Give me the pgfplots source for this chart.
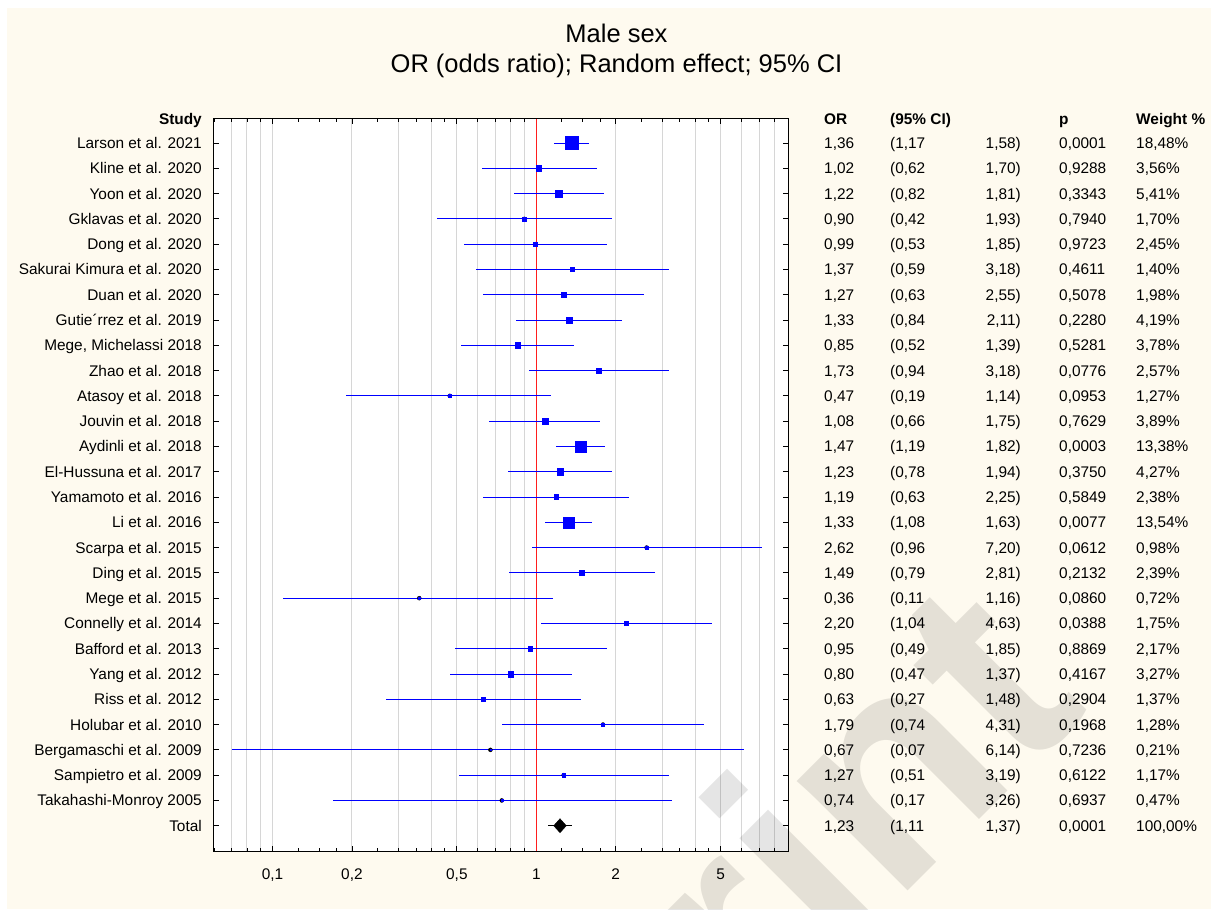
\documentclass[border=0pt]{standalone}
\usepackage{fontspec}
\setmainfont{Liberation Sans}
\usepackage{pgfplots}
\pgfplotsset{compat=1.18}
\usepackage{pgfplotstable}

\definecolor{cream}{RGB}{254,250,239}
\definecolor{gridgray}{RGB}{214,214,214}
\definecolor{ciblue}{RGB}{0,0,255}
\definecolor{nullred}{RGB}{255,30,30}

\newcommand\tabfont{\fontsize{15.4}{18}\selectfont}
\newcommand\titlefont{\fontsize{25.5}{30}\selectfont}
\pgfkeys{/pgf/number format/assume math mode=true}

% row  OR   lower upper  p      weight(%)
\pgfplotstableread{
row or   lo   hi   p      w
1  1.36 1.17 1.58 0.0001 18.48
2  1.02 0.62 1.70 0.9288 3.56
3  1.22 0.82 1.81 0.3343 5.41
4  0.90 0.42 1.93 0.7940 1.70
5  0.99 0.53 1.85 0.9723 2.45
6  1.37 0.59 3.18 0.4611 1.40
7  1.27 0.63 2.55 0.5078 1.98
8  1.33 0.84 2.11 0.2280 4.19
9  0.85 0.52 1.39 0.5281 3.78
10 1.73 0.94 3.18 0.0776 2.57
11 0.47 0.19 1.14 0.0953 1.27
12 1.08 0.66 1.75 0.7629 3.89
13 1.47 1.19 1.82 0.0003 13.38
14 1.23 0.78 1.94 0.3750 4.27
15 1.19 0.63 2.25 0.5849 2.38
16 1.33 1.08 1.63 0.0077 13.54
17 2.62 0.96 7.20 0.0612 0.98
18 1.49 0.79 2.81 0.2132 2.39
19 0.36 0.11 1.16 0.0860 0.72
20 2.20 1.04 4.63 0.0388 1.75
21 0.95 0.49 1.85 0.8869 2.17
22 0.80 0.47 1.37 0.4167 3.27
23 0.63 0.27 1.48 0.2904 1.37
24 1.79 0.74 4.31 0.1968 1.28
25 0.67 0.07 6.14 0.7236 0.21
26 1.27 0.51 3.19 0.6122 1.17
27 0.74 0.17 3.26 0.6937 0.47
28 1.23 1.11 1.37 0.0001 100.00
}\meta

\pgfplotsset{
  coltext/.style={only marks, mark=none, point meta=explicit},
  colnodes/.style 2 args={nodes near coords style={anchor=#1, inner sep=0pt,
    xshift=#2, yshift=-5.5pt, text=black, font=\tabfont}},
}

\begin{document}
\begin{tikzpicture}[x=1pt, y=1pt]
\useasboundingbox (0,0) rectangle (1211,910);
\fill[white] (0,0) rectangle (1211,910);
\fill[cream] (7,1) rectangle (1211,902);

\node[anchor=base, font=\titlefont] at (616.5,867) {Male sex};
\node[anchor=base, font=\titlefont] at (616.5,837) {OR (odds ratio); Random effect; 95\% CI};

\begin{axis}[
  at={(214pt,791pt)}, anchor=north west,
  scale only axis, width=574pt, height=732pt,
  xmode=log, xmin=0.06, xmax=9,
  ymin=0.05, ymax=29, y dir=reverse,
  clip=false,
  axis background/.style={fill=white},
  axis line style={black, line width=1pt},
  tick align=inside,
  major tick length=5pt, minor tick length=3pt,
  tick style={black, line width=0.8pt},
  xtick={0.1,0.2,0.5,1,2,5},
  xticklabels={{0,1},{0,2},{0,5},1,2,5},
  minor xtick={0.06,0.07,0.08,0.09,0.3,0.4,0.6,0.7,0.8,0.9,3,4,6,7,8,9},
  xminorgrids=true, xmajorgrids=true,
  major grid style={gridgray, line width=1pt},
  minor grid style={gridgray, line width=1pt},
  extra x ticks={0.125,0.15,0.175,0.25,0.35,0.45,1.25,1.5,1.75,2.5,3.5,4.5},
  extra x tick labels={},
  extra x tick style={grid=none, major tick length=3pt},
  ytick={1,...,28},
  yticklabels={Larson et al. 2021, Kline et al. 2020, Yoon et al. 2020,
    Gklavas et al. 2020, Dong et al. 2020, Sakurai Kimura et al. 2020,
    Duan et al. 2020, Gutie´rrez et al. 2019, {Mege, Michelassi 2018},
    Zhao et al. 2018, Atasoy et al. 2018, Jouvin et al. 2018,
    Aydinli et al. 2018, El-Hussuna et al. 2017, Yamamoto et al. 2016,
    Li et al. 2016, Scarpa et al. 2015, Ding et al. 2015, Mege et al. 2015,
    Connelly et al. 2014, Bafford et al. 2013, Yang et al. 2012,
    Riss et al. 2012, Holubar et al. 2010, Bergamaschi et al. 2009,
    Sampietro et al. 2009, Takahashi-Monroy 2005, Total},
  xticklabel style={font=\tabfont, anchor=base, inner sep=0pt, yshift=-28pt},
  yticklabel style={font=\tabfont, anchor=base east, inner sep=0pt,
    xshift=-12pt, yshift=-5.5pt},
]

% line of no effect
\addplot[nullred, line width=1.3pt, forget plot] coordinates {(1,0.05) (1,29)};

% individual studies: 95% confidence intervals
\addplot[only marks, mark=none,
  skip coords between index={27}{28},
  error bars/.cd, x dir=both, x explicit, error mark=none,
  error bar style={ciblue, line width=1pt}]
  table[x=or, y=row,
    x error plus expr=\thisrow{hi}-\thisrow{or},
    x error minus expr=\thisrow{or}-\thisrow{lo}] {\meta};

% individual studies: OR squares sized by weight
\addplot[scatter, only marks, mark=square*,
  skip coords between index={27}{28},
  scatter/use mapped color={draw=ciblue, fill=ciblue},
  visualization depends on={1.51*sqrt(\thisrow{w}) \as \msize},
  scatter/@pre marker code/.append style={/tikz/mark size=\msize}]
  table[x=or, y=row] {\meta};

% pooled estimate
\addplot[only marks, black, mark=diamond*, mark size=7pt,
  mark options={xscale=1.2},
  skip coords between index={0}{27},
  error bars/.cd, x dir=both, x explicit, error mark=none,
  error bar style={black, line width=1.3pt}]
  table[x=or, y=row,
    x error plus expr=\thisrow{hi}-\thisrow{or},
    x error minus expr=\thisrow{or}-\thisrow{lo}] {\meta};

% table columns to the right of the plot
\addplot[coltext, colnodes={base west}{287.7pt},
  nodes near coords={\pgfmathprintnumber[fixed,fixed zerofill,precision=2,use comma]{\pgfplotspointmeta}}]
  table[x expr=1, y=row, meta=or] {\meta};
\addplot[coltext, colnodes={base west}{353.7pt},
  nodes near coords={(\pgfmathprintnumber[fixed,fixed zerofill,precision=2,use comma]{\pgfplotspointmeta}}]
  table[x expr=1, y=row, meta=lo] {\meta};
\addplot[coltext, colnodes={base east}{484.7pt},
  nodes near coords={\pgfmathprintnumber[fixed,fixed zerofill,precision=2,use comma]{\pgfplotspointmeta})}]
  table[x expr=1, y=row, meta=hi] {\meta};
\addplot[coltext, colnodes={base west}{522.7pt},
  nodes near coords={\pgfmathprintnumber[fixed,fixed zerofill,precision=4,use comma]{\pgfplotspointmeta}}]
  table[x expr=1, y=row, meta=p] {\meta};
\addplot[coltext, colnodes={base west}{599.7pt},
  nodes near coords={\pgfmathprintnumber[fixed,fixed zerofill,precision=2,use comma]{\pgfplotspointmeta}\%}]
  table[x expr=1, y=row, meta=w] {\meta};

% column headers
\node[anchor=base east, font=\tabfont\bfseries, inner sep=0pt, xshift=-334.3pt, yshift=-5.5pt] at (axis cs:1,0.05) {Study};
\node[anchor=base west, font=\tabfont\bfseries, inner sep=0pt, xshift=287.7pt, yshift=-5.5pt] at (axis cs:1,0.05) {OR};
\node[anchor=base west, font=\tabfont\bfseries, inner sep=0pt, xshift=353.7pt, yshift=-5.5pt] at (axis cs:1,0.05) {(95\% CI)};
\node[anchor=base west, font=\tabfont\bfseries, inner sep=0pt, xshift=522.7pt, yshift=-5.5pt] at (axis cs:1,0.05) {p};
\node[anchor=base west, font=\tabfont\bfseries, inner sep=0pt, xshift=599.7pt, yshift=-5.5pt] at (axis cs:1,0.05) {Weight \%};
\end{axis}

% watermark
\node[rotate=45, anchor=base west, font=\fontsize{295}{295}\selectfont\bfseries,
  text=black, opacity=0.1, inner sep=0pt] at (291,-598.6) {Preprint};
\end{tikzpicture}
\end{document}
